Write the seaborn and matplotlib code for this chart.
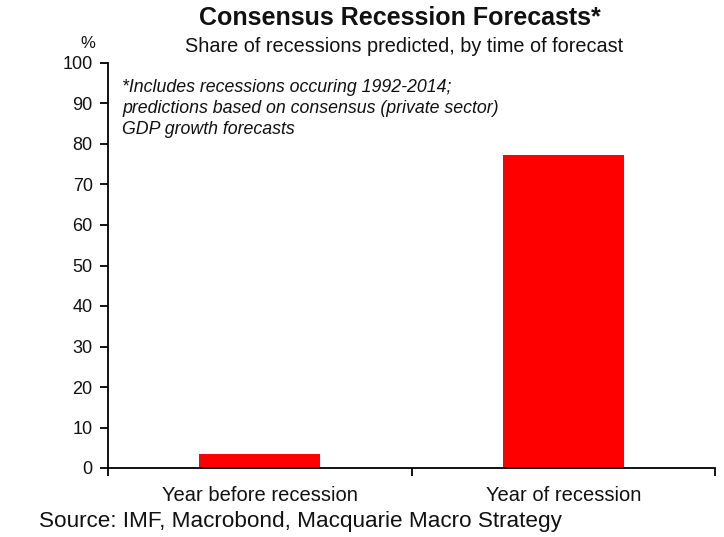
import matplotlib
matplotlib.use("Agg")
import matplotlib.pyplot as plt
import seaborn as sns
import pandas as pd

# Share of recessions predicted, by time of forecast (%)
categories = ["Year before recession", "Year of recession"]
shares = [3.4, 77.2]
yticks = [0, 10, 20, 30, 40, 50, 60, 70, 80, 90, 100]

sns.set_theme(style="white")
plt.rcParams["font.family"] = ["Liberation Sans", "DejaVu Sans"]

df = pd.DataFrame({"category": categories, "share": shares})

fig = plt.figure(figsize=(7.24, 5.37), dpi=100)
ax = fig.add_axes([108 / 724, 1 - 468 / 537, (715 - 108) / 724, (468 - 63) / 537])

sns.barplot(data=df, x="category", y="share", color="#ff0000", saturation=1,
            width=0.4, edgecolor="none", ax=ax)

ax.set_xlim(-0.5, 1.5)
ax.set_ylim(0, 100)
ax.set_yticks(yticks)
ax.set_yticklabels([str(t) for t in yticks], fontsize=13)
ax.set_xlabel("")
ax.set_ylabel("")

# category labels centred, tick marks at category boundaries
ax.set_xticks([-0.5, 0.5, 1.5], minor=True)
ax.tick_params(axis="x", which="major", bottom=True, length=0, labelsize=14.5, pad=13)
ax.tick_params(axis="x", which="minor", bottom=True, length=6, width=1.3,
               color="black", direction="out")
ax.tick_params(axis="y", which="major", left=True, length=6, width=1.3,
               color="black", direction="out", pad=5)
ax.tick_params(labelcolor="#111111")

for side in ["top", "right"]:
    ax.spines[side].set_visible(False)
for side in ["left", "bottom"]:
    ax.spines[side].set_color("black")
    ax.spines[side].set_linewidth(1.3)

fig.text(400 / 724, 1 - 18 / 537, "Consensus Recession Forecasts*", ha="center", va="center",
         fontsize=18, fontweight="bold", color="#111111")
fig.text(404 / 724, 1 - 46 / 537, "Share of recessions predicted, by time of forecast",
         ha="center", va="center", fontsize=14.3, color="#111111")
fig.text(88 / 724, 1 - 44 / 537, "%", ha="center", va="center", fontsize=12, color="#111111")

note = ("*Includes recessions occuring 1992-2014;\n"
        "predictions based on consensus (private sector)\n"
        "GDP growth forecasts")
fig.text(122 / 724, 1 - 79 / 537, note, ha="left", va="top",
         fontsize=12.8, fontstyle="italic", color="#111111", linespacing=1.32)

fig.text(39 / 724, 1 - 522 / 537, "Source: IMF, Macrobond, Macquarie Macro Strategy",
         ha="left", va="center", fontsize=16.2, color="#111111")

fig.savefig("out.png", dpi=100)
